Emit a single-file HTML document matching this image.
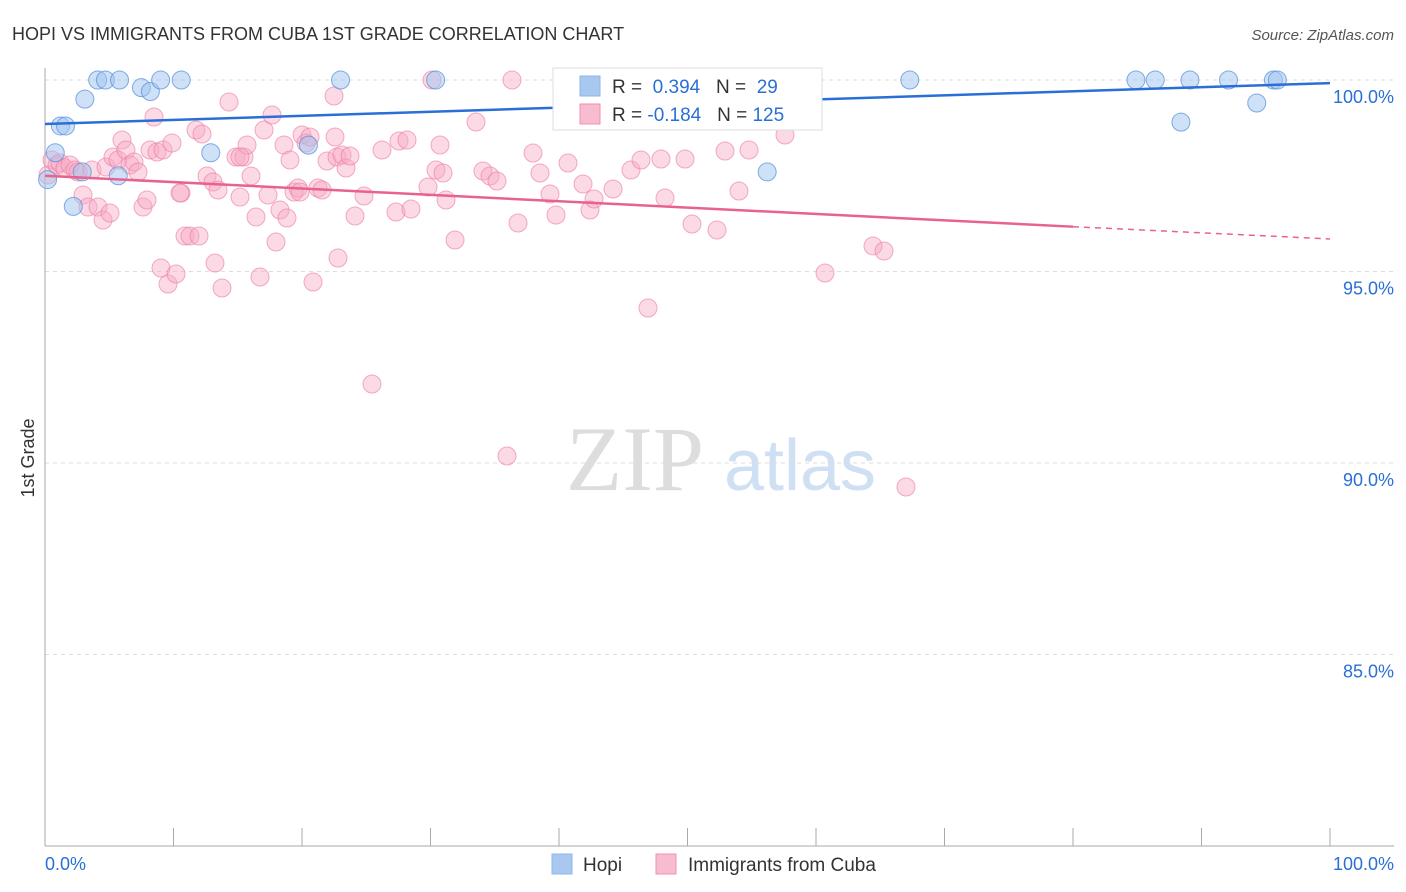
<!DOCTYPE html>
<html><head><meta charset="utf-8"><style>
body{margin:0;background:#fff;font-family:"Liberation Sans",sans-serif}
svg{display:block}
</style></head><body>
<svg id="chart" width="1406" height="892">
<text x="12" y="40" font-size="18" fill="#333">HOPI VS IMMIGRANTS FROM CUBA 1ST GRADE CORRELATION CHART</text>
<text x="1394" y="40" font-size="15" fill="#555" text-anchor="end" font-style="italic">Source: ZipAtlas.com</text>
<text x="34" y="458" font-size="18" fill="#333" transform="rotate(-90 34 458)" text-anchor="middle">1st Grade</text>
<g><text x="635" y="490" font-size="92" font-family="Liberation Serif,serif" fill="#ddd" text-anchor="middle">ZIP</text><text x="800" y="490" font-size="72" fill="#cfe0f4" text-anchor="middle">atlas</text></g>
<g id="grid"></g><g id="axes"></g><g id="pts"></g><g id="trend"></g>
<g>
<rect x="553" y="68" width="269" height="62" fill="#fff" stroke="#ddd"/>
<rect x="580" y="76" width="20" height="20" fill="#a9c8f0" stroke="#8fb5e8"/>
<text x="612" y="93" font-size="19" fill="#333">R = <tspan fill="#2a6fd6">&#160;0.394</tspan>&#160;&#160;&#160;N = <tspan fill="#2a6fd6">&#160;29</tspan></text>
<rect x="580" y="104" width="20" height="20" fill="#f7bcd0" stroke="#f090b0"/>
<text x="612" y="121" font-size="19" fill="#333">R = <tspan fill="#2a6fd6">-0.184</tspan>&#160;&#160;&#160;N = <tspan fill="#2a6fd6">125</tspan></text>
</g>
<g>
<rect x="552" y="854" width="20" height="20" fill="#a9c8f0" stroke="#8fb5e8"/>
<text x="583" y="871" font-size="19" fill="#333">Hopi</text>
<rect x="656" y="854" width="20" height="20" fill="#f7bcd0" stroke="#f090b0"/>
<text x="688" y="871" font-size="19" fill="#333">Immigrants from Cuba</text>
</g>
<text x="45" y="870" font-size="18" fill="#2a6fd6">0.0%</text>
<text x="1394" y="870" font-size="18" fill="#2a6fd6" text-anchor="end">100.0%</text>
</svg>
<script>
const yTicks=[100,95,90,85];
const hopiX=[0.2,0.8,1.2,1.6,2.2,2.9,3.1,4.1,4.7,5.8,5.7,7.5,8.2,9.0,10.6,12.9,20.5,23.0,30.4,56.2,67.3,84.9,86.4,88.4,89.1,92.1,94.3,95.6,95.9];
const hopiY=[97.4,98.1,98.8,98.8,96.7,97.6,99.5,100,100,100,97.5,99.8,99.7,100,100,98.1,98.3,100,100,97.6,100,100,100,98.9,100,100,99.4,100,100];
const cubaPx=[48,52,57,60,65,70,75,78,83,88,92,98,103,106,110,113,118,122,126,130,134,138,143,147,150,154,157,161,163,168,172,176,181,185,190,196,199,202,207,213,215,218,222,229,236,240,244,247,251,256,260,264,268,272,276,280,284,287,290,294,298,302,306,310,313,318,322,327,334,337,338,342,346,350,355,364,372,382,396,399,407,411,428,432,436,440,443,446,455,476,483,490,497,507,518,533,540,550,556,568,583,590,594,613,631,641,648,661,665,685,692,717,725,739,749,785,825,873,884,906,335,512,300,240,180];
const cubaPy=[175,160,165,163,168,165,170,172,195,207,170,207,220,167,213,157,160,140,150,165,162,172,207,200,150,117,152,268,150,284,143,274,193,236,236,130,236,134,176,182,263,190,288,102,157,197,157,145,176,217,277,130,195,115,242,210,145,218,160,192,188,135,143,137,282,188,190,161,96,157,258,155,168,156,216,196,384,150,212,141,140,209,187,80,170,145,173,200,240,122,171,176,181,456,223,153,173,194,215,163,184,210,199,189,170,160,308,159,198,159,224,230,151,191,150,135,273,246,251,487,137,80,192,157,193];
const cubaX=cubaPx.map(p=>(p-45)/12.85);
const cubaY=cubaPy.map(p=>100-(p-80)/38.3);
const hopiTrend=[98.85,99.92];
const cubaTrend=[97.5,96.17,95.85];
const X=v=>45+v*12.85, Y=v=>80+(100-v)*38.3;
const NS='http://www.w3.org/2000/svg';
function mk(t,a,p){const e=document.createElementNS(NS,t);for(const k in a)e.setAttribute(k,a[k]);p.appendChild(e);return e;}
const grid=document.getElementById('grid'),axes=document.getElementById('axes'),pts=document.getElementById('pts'),tr=document.getElementById('trend');
yTicks.forEach(t=>{
const l=mk('line',{x1:45,x2:1394,y1:Y(t),y2:Y(t),stroke:'#ddd','stroke-dasharray':'4,4'},grid);


const tx=mk('text',{x:1394,y:Y(t)+23,'font-size':18,fill:'#2a6fd6','text-anchor':'end'},grid);
tx.textContent=t.toFixed(1)+'%';


});
mk('line',{x1:45,x2:45,y1:68,y2:846,stroke:'#aaa'},axes);
mk('line',{x1:45,x2:1394,y1:846,y2:846,stroke:'#aaa'},axes);
for(let i=0;i<=10;i++){const t=mk('line',{x1:X(i*10),x2:X(i*10),y1:828,y2:846,stroke:'#aaa'},axes);

}
cubaX.forEach((x,i)=>{const c=mk('circle',{cx:X(x),cy:Y(cubaY[i]),r:9,fill:'rgba(247,170,198,0.45)',stroke:'rgba(236,120,160,0.6)'},pts);

});
hopiX.forEach((x,i)=>{const c=mk('circle',{cx:X(x),cy:Y(hopiY[i]),r:9,fill:'rgba(160,195,240,0.5)',stroke:'rgba(80,140,220,0.7)'},pts);

});
let l=mk('line',{x1:X(0),y1:Y(hopiTrend[0]),x2:X(100),y2:Y(hopiTrend[1]),stroke:'#2a6fd6','stroke-width':2.5},tr);


l=mk('line',{x1:X(0),y1:Y(cubaTrend[0]),x2:X(80),y2:Y(cubaTrend[1]),stroke:'#e8628f','stroke-width':2.5},tr);


l=mk('line',{x1:X(80),y1:Y(cubaTrend[1]),x2:X(100),y2:Y(cubaTrend[2]),stroke:'#e8628f','stroke-width':1.5,'stroke-dasharray':'6,5'},tr);


</script>
</body></html>
